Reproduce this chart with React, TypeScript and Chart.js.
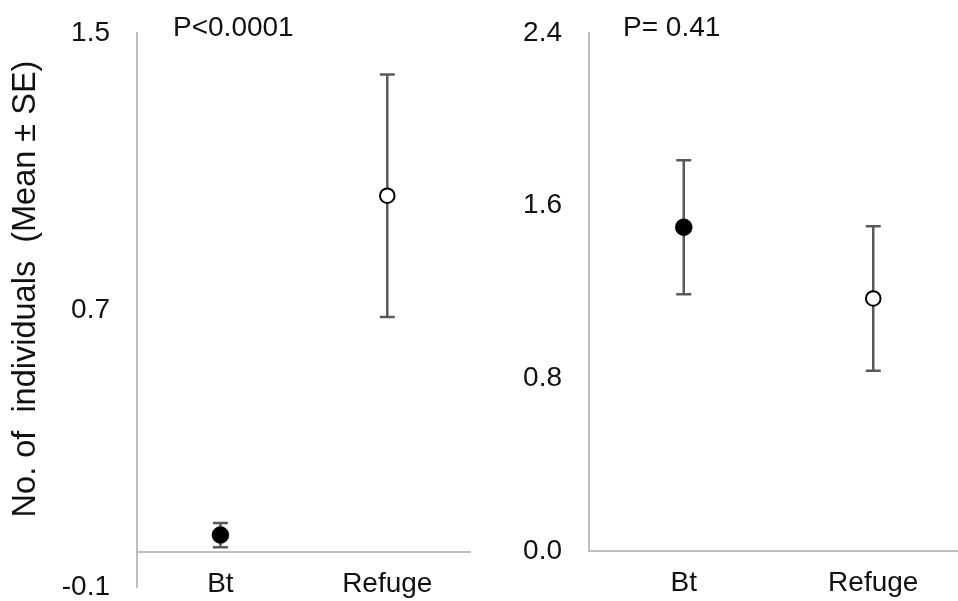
import React, { useEffect, useRef } from "react";
import { Chart, registerables } from "chart.js";

Chart.register(...registerables);

// ---- data ----
const categories = ["Bt", "Refuge"];
const leftMeans = [0.05, 1.03];
const leftSE = [0.035, 0.35];
const rightMeans = [1.5, 1.17];
const rightSE = [0.31, 0.335];
const leftTicks = [-0.1, 0.7, 1.5];
const rightTicks = [0.0, 0.8, 1.6, 2.4];
const leftP = "P<0.0001";
const rightP = "P= 0.41";
const yTitle = "No. of  individuals  (Mean ± SE)";
const pointFill = ["#000000", "#ffffff"];

// ---- styles ----
const FONT = '"Liberation Sans", Arial, Helvetica, sans-serif';
const AXIS = "#bfbfbf";
const ERR = "#595959";
const TEXT = "#111111";

function makeErrorBars(se: number[]) {
  return {
    id: "errorBars",
    beforeDatasetsDraw(chart: any) {
      const { ctx } = chart;
      const meta = chart.getDatasetMeta(0);
      const ys = chart.scales.y;
      const data = chart.data.datasets[0].data as number[];
      ctx.save();
      ctx.strokeStyle = ERR;
      ctx.lineWidth = 2.5;
      se.forEach((e, i) => {
        const m = data[i];
        const x = meta.data[i].x;
        const yT = ys.getPixelForValue(m + e);
        const yB = ys.getPixelForValue(m - e);
        ctx.beginPath();
        ctx.moveTo(x, yT);
        ctx.lineTo(x, yB);
        ctx.moveTo(x - 7.5, yT);
        ctx.lineTo(x + 7.5, yT);
        ctx.moveTo(x - 7.5, yB);
        ctx.lineTo(x + 7.5, yB);
        ctx.stroke();
      });
      ctx.restore();
    },
  };
}

function makeText(pText: string, pOffset: number, withTitle: boolean) {
  return {
    id: "texts",
    afterDraw(chart: any) {
      const { ctx, chartArea } = chart;
      ctx.save();
      ctx.fillStyle = TEXT;
      ctx.font = `28px ${FONT}`;
      ctx.textAlign = "left";
      ctx.textBaseline = "middle";
      ctx.fillText(pText, chartArea.left + pOffset, 28);
      if (withTitle) {
        ctx.translate(26, 289);
        ctx.rotate(-Math.PI / 2);
        ctx.textAlign = "center";
        ctx.font = `32.5px ${FONT}`;
        ctx.fillText(yTitle, 0, 0);
      }
      ctx.restore();
    },
  };
}

function buildChart(
  canvas: HTMLCanvasElement,
  means: number[],
  se: number[],
  ticks: number[],
  yMin: number,
  yMax: number,
  yWidth: number,
  padding: any,
  pText: string,
  pOffset: number,
  withTitle: boolean
) {
  return new Chart(canvas, {
    type: "line",
    data: {
      labels: categories,
      datasets: [
        {
          data: means,
          showLine: false,
          pointRadius: [8.5, 7.3],
          pointBorderWidth: [0.5, 2],
          pointBackgroundColor: pointFill,
          pointBorderColor: "#000000",
          pointHoverRadius: [8.5, 7.3],
        },
      ],
    },
    options: {
      animation: false,
      responsive: false,
      events: [],
      layout: { padding },
      plugins: {
        legend: { display: false },
        tooltip: { enabled: false },
      },
      scales: {
        x: {
          position: { y: 0 } as any,
          offset: true,
          grid: { display: false, drawTicks: false },
          border: { display: true, color: AXIS, width: 2 },
          ticks: {
            padding: 15,
            color: TEXT,
            font: { family: FONT, size: 28 },
            maxRotation: 0,
          },
        },
        y: {
          min: yMin,
          max: yMax,
          afterBuildTicks: (s: any) => {
            s.ticks = ticks.map((v) => ({ value: v }));
          },
          afterFit: (s: any) => {
            s.width = yWidth;
            s.paddingTop = 0;
            s.paddingBottom = 0;
          },
          grid: { display: false, drawTicks: false },
          border: { display: true, color: AXIS, width: 2 },
          ticks: {
            padding: 27,
            color: TEXT,
            font: { family: FONT, size: 28 },
            callback: (v: any) => Number(v).toFixed(1),
          },
        },
      },
    },
    plugins: [makeErrorBars(se), makeText(pText, pOffset, withTitle)],
  });
}

export default function App() {
  const leftRef = useRef<HTMLCanvasElement>(null);
  const rightRef = useRef<HTMLCanvasElement>(null);

  useEffect(() => {
    const c1 = buildChart(
      leftRef.current!,
      leftMeans,
      leftSE,
      leftTicks,
      -0.1,
      1.5,
      137,
      { top: 33, bottom: 14, left: 0, right: 7 },
      leftP,
      36,
      true
    );
    const c2 = buildChart(
      rightRef.current!,
      rightMeans,
      rightSE,
      rightTicks,
      0,
      2.4,
      109,
      { top: 33, bottom: 50, left: 0, right: 22 },
      rightP,
      34,
      false
    );
    return () => {
      c1.destroy();
      c2.destroy();
    };
  }, []);

  return (
    <div
      style={{
        position: "fixed",
        left: 0,
        top: 0,
        width: 958,
        height: 601,
        overflow: "hidden",
        background: "#ffffff",
      }}
    >
      <canvas
        ref={leftRef}
        width={480}
        height={601}
        style={{ position: "absolute", left: 0, top: 0, width: 480, height: 601 }}
      />
      <canvas
        ref={rightRef}
        width={510}
        height={601}
        style={{ position: "absolute", left: 480, top: 0, width: 510, height: 601 }}
      />
    </div>
  );
}
